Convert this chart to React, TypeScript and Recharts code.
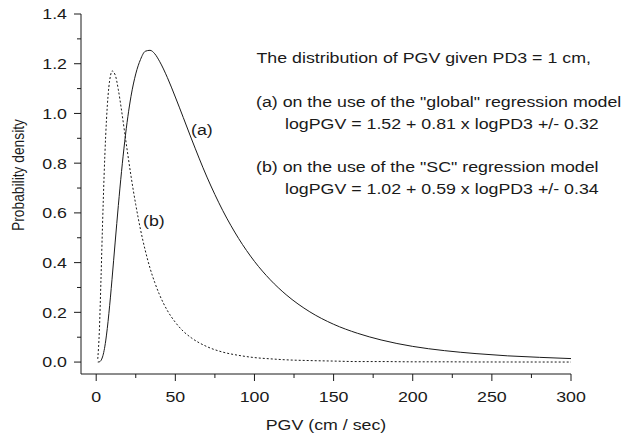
import React from 'react';
import { LineChart, Line, XAxis, YAxis, Customized } from 'recharts';

const pgv = [
  1, 2, 3, 4, 5, 6, 7, 8, 9, 10, 12, 14, 16, 18, 20, 22, 25, 28, 31, 34, 37, 40,
  45, 50, 55, 60, 70, 80, 90, 100, 110, 120, 135, 150, 165, 180, 200, 220, 240,
  260, 280, 300,
];

// (a) "global" regression model, solid line
const densityGlobal = [
  0.0, 0.0009, 0.0062, 0.0204, 0.0464, 0.0849, 0.1349, 0.1944, 0.2612, 0.3331,
  0.4828, 0.6301, 0.766, 0.8858, 0.9866, 1.069, 1.159, 1.217, 1.25, 1.254, 1.24,
  1.21, 1.144, 1.066, 0.984, 0.901, 0.744, 0.609, 0.497, 0.405, 0.331, 0.271,
  0.202, 0.152, 0.116, 0.089, 0.063, 0.046, 0.034, 0.025, 0.019, 0.014,
];

// (b) "SC" regression model, dotted line
const densitySC = [
  0.013, 0.125, 0.328, 0.551, 0.751, 0.911, 1.028, 1.106, 1.151, 1.171, 1.155,
  1.095, 1.013, 0.923, 0.834, 0.748, 0.633, 0.533, 0.449, 0.378, 0.32, 0.271,
  0.207, 0.16, 0.124, 0.098, 0.062, 0.04, 0.027, 0.018, 0.013, 0.009, 0.006,
  0.004, 0.002, 0.002, 0.001, 0.001, 0.0004, 0.0003, 0.0002, 0.0001,
];

const xTicks = [0, 25, 50, 75, 100, 125, 150, 175, 200, 225, 250, 275, 300];
const yTicks = [0, 0.1, 0.2, 0.3, 0.4, 0.5, 0.6, 0.7, 0.8, 0.9, 1.0, 1.1, 1.2, 1.3, 1.4];

const noteLines = [
  'The distribution of PGV given PD3 = 1 cm,',
  '(a) on the use of the "global" regression model',
  'logPGV = 1.52 + 0.81 x logPD3 +/- 0.32',
  '(b) on the use of the "SC" regression model',
  'logPGV = 1.02 + 0.59 x logPD3 +/- 0.34',
];

const rows = pgv.map((v, i) => ({
  pgv: v,
  global: densityGlobal[i],
  sc: densitySC[i],
}));

const FONT = '"Liberation Sans", Arial, Helvetica, sans-serif';
const INK = '#1a1a1a';
// the source picture is a bit wider than tall, so glyphs get stretched sideways
const SX = 1.17;

const SText = ({ x, y, anchor = 'start', size = 15.2, rotate = 0, children }: any) => (
  <text
    transform={`translate(${x},${y}) scale(${SX},1)${rotate ? ` rotate(${rotate})` : ''}`}
    x={0}
    y={0}
    textAnchor={anchor}
    fontSize={size}
    fontFamily={FONT}
    fill={INK}
  >
    {children}
  </text>
);

const XTick = ({ x, y, payload }: any) => {
  const major = payload.value % 50 === 0;
  return (
    <g>
      <line x1={x} x2={x} y1={y} y2={y + (major ? 7 : 4)} stroke={INK} strokeWidth={1} />
      {major && (
        <SText x={x} y={y + 28} anchor="middle">
          {payload.value}
        </SText>
      )}
    </g>
  );
};

const YTick = ({ x, y, payload }: any) => {
  const major = Math.round(payload.value * 10) % 2 === 0;
  return (
    <g>
      <line x1={x - (major ? 7 : 4)} x2={x} y1={y} y2={y} stroke={INK} strokeWidth={1} />
      {major && (
        <SText x={x - 14} y={y + 5.4} anchor="end">
          {payload.value.toFixed(1)}
        </SText>
      )}
    </g>
  );
};

const Notes = () => (
  <g>
    <SText x={256.5} y={63}>{noteLines[0]}</SText>
    <SText x={256} y={106.5}>{noteLines[1]}</SText>
    <SText x={285} y={129}>{noteLines[2]}</SText>
    <SText x={256} y={172}>{noteLines[3]}</SText>
    <SText x={285} y={194}>{noteLines[4]}</SText>
    <SText x={191} y={135}>(a)</SText>
    <SText x={143} y={226}>(b)</SText>
    <SText x={326} y={430} anchor="middle">PGV (cm / sec)</SText>
    <SText x={23.5} y={175} anchor="middle" size={13.8} rotate={-90}>
      Probability density
    </SText>
  </g>
);

export default function App() {
  return (
    <div style={{ position: 'absolute', left: 0, top: 0, width: 626, height: 438, background: '#fff' }}>
      <LineChart
        width={626}
        height={438}
        data={rows}
        margin={{ top: 14, right: 55, bottom: 0, left: 0 }}
      >
        <XAxis
          dataKey="pgv"
          type="number"
          domain={[-9.6, 300]}
          ticks={xTicks}
          interval={0}
          height={64}
          tickSize={0}
          tickMargin={0}
          tickLine={false}
          axisLine={{ stroke: INK, strokeWidth: 1 }}
          tick={(p: any) => <XTick {...p} />}
        />
        <YAxis
          type="number"
          domain={[-0.048, 1.4]}
          ticks={yTicks}
          interval={0}
          width={81}
          tickSize={0}
          tickMargin={0}
          tickLine={false}
          axisLine={{ stroke: INK, strokeWidth: 1 }}
          tick={(p: any) => <YTick {...p} />}
        />
        <Line
          dataKey="sc"
          type="monotone"
          stroke={INK}
          strokeWidth={1}
          strokeDasharray="2 2"
          dot={false}
          isAnimationActive={false}
        />
        <Line
          dataKey="global"
          type="monotone"
          stroke={INK}
          strokeWidth={1}
          dot={false}
          isAnimationActive={false}
        />
        <Customized component={Notes} />
      </LineChart>
    </div>
  );
}
